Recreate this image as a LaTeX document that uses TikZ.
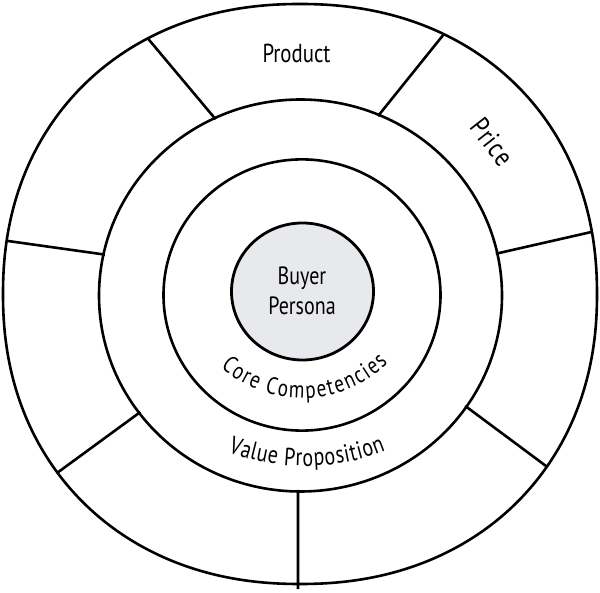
\documentclass[tikz,border=0pt]{standalone}
\usepackage{fontspec}
\setmainfont{PT Sans}[FakeStretch=0.8]
\usetikzlibrary{calc,decorations.text}
\definecolor{buyerfill}{HTML}{E8E9EC}
\begin{document}
\begin{tikzpicture}[x=1pt,y=1pt,
  ring/.style={line width=2.6pt,draw=black},
  lbl/.style={font=\fontsize{25}{30}\selectfont, inner sep=0pt, align=center}]
\useasboundingbox (0,0) rectangle (600,592);
% centres
\coordinate (M) at (300.5,296.5);
% spokes: inner ends on middle ellipse
\coordinate (s1in) at ($(M)+(115.2:201.5 and 196)$);
\coordinate (s2in) at ($(M)+(67.1:201.5 and 196)$);
\coordinate (s3in) at ($(M)+(12.4:201.5 and 196)$);
\coordinate (s4in) at ($(M)+(-34.6:201.5 and 196)$);
\coordinate (s5in) at ($(M)+(269.3:201.5 and 196)$);
\coordinate (s6in) at ($(M)+(216.8:201.5 and 196)$);
\coordinate (s7in) at ($(M)+(167.9:201.5 and 196)$);
\coordinate (s1out) at (150,551);
\coordinate (s2out) at (444,558);
\coordinate (s3out) at (587,359);
\coordinate (s4out) at (546,126);
\coordinate (s5out) at (298,3);
\coordinate (s6out) at (57,119);
\coordinate (s7out) at (8,351);
\begin{scope}
  \clip plot[domain=1:359, samples=180, smooth cycle]
    ({300+297*cos(\x)*pow(abs(cos(\x)),-0.07)}, {298+290*sin(\x)*pow(abs(sin(\x)),-0.07)});
  \foreach \i in {1,2,3,4,6,7}{
    \draw[ring] ($(s\i in)!-1.5pt!(s\i out)$) -- ($(s\i in)!1.3!(s\i out)$);
  }
\end{scope}
\draw[ring] ($(s5in)!-1.5pt!(s5out)$) -- (s5out);
% outer ring
\draw[ring] plot[domain=1:359, samples=180, smooth cycle]
    ({300+297*cos(\x)*pow(abs(cos(\x)),-0.07)}, {298+290*sin(\x)*pow(abs(sin(\x)),-0.07)});
% middle and inner circles
\draw[ring] (M) ellipse [x radius=201.5, y radius=196];
\draw[ring] (302,297) ellipse [x radius=138.5, y radius=135.6];
\draw[ring, line width=2.8pt, fill=buyerfill] (302.5,300.5) ellipse [x radius=71, y radius=68.5];
% labels
\node[lbl, anchor=base, font=\fontsize{26}{30}\selectfont] (prod) at (296.5,529.5) {Product};
\node[lbl, rotate=-52, font=\fontsize{28}{30}\selectfont] (price) at (492,450) {\addfontfeature{LetterSpace=4}Price};
\node[lbl, anchor=base] (buyer) at (302,307) {Buyer};
\node[lbl, anchor=base] (persona) at (302,277) {Persona};
\path[decorate, decoration={text along path,
   text={|\fontsize{24}{28}\selectfont|Core Competencies}, text align=fit to path}]
   ($(302,318)+(229:124)$) arc[start angle=229, end angle=314, radius=124];
\path[decorate, decoration={text along path,
   text={|\fontsize{25}{29}\selectfont|Value Proposition}, text align=fit to path}]
   ($(305,346)+(249.5:220)$) arc[start angle=249.5, end angle=291.5, radius=220];
\end{tikzpicture}
\end{document}
